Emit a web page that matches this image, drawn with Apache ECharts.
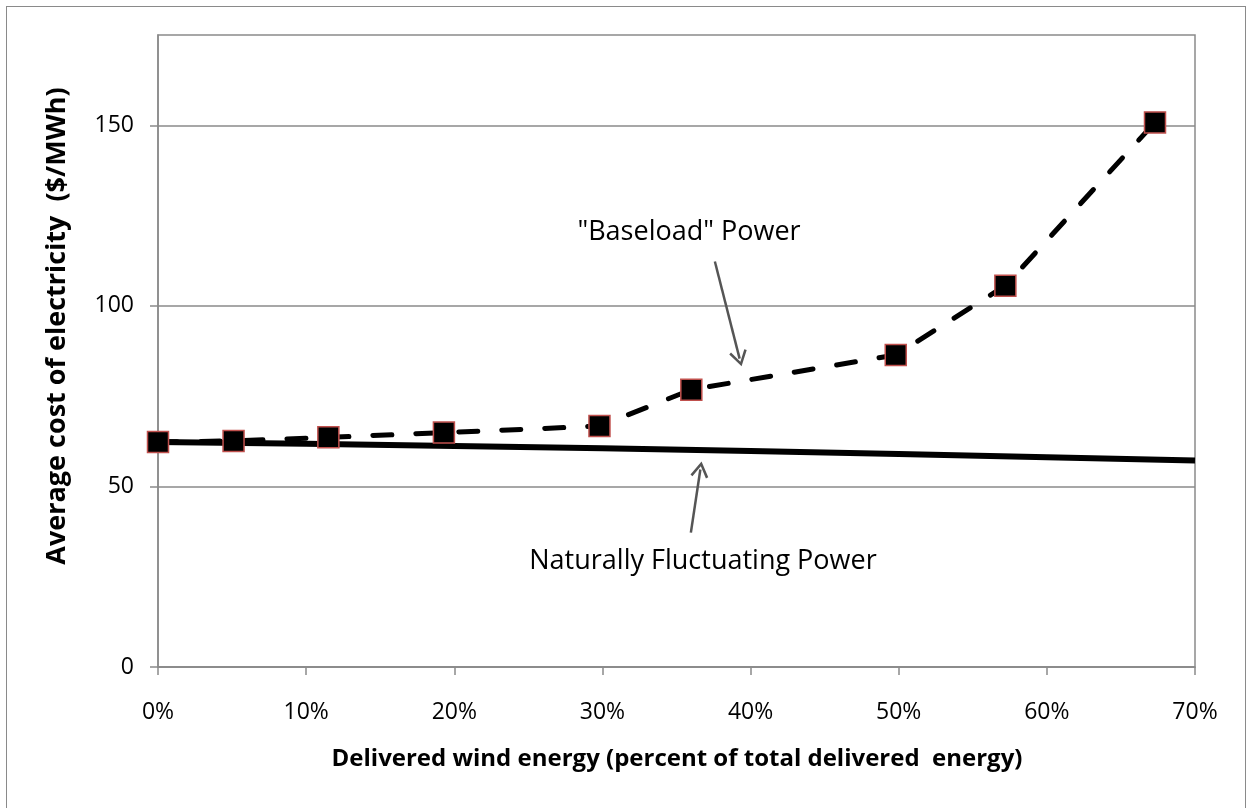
<!DOCTYPE html>
<html>
<head>
<meta charset="utf-8">
<title>Average cost of electricity vs delivered wind energy</title>
<script src="https://cdn.jsdelivr.net/npm/echarts@6/dist/echarts.min.js"></script>
<style>
  html, body { margin: 0; padding: 0; background: #fff; }
  #frame {
    position: absolute; left: 6px; top: 6px;
    width: 1240px; height: 812px;
    border: 1.5px solid #8a8a8a; box-sizing: border-box;
  }
  #chart { position: absolute; left: 0; top: 0; width: 1248px; height: 808px; }
</style>
</head>
<body>
<div id="frame"></div>
<div id="chart"></div>
<script>
// baseload power (dashed line with square markers)
const baseloadShare = [0, 0.051, 0.115, 0.193, 0.298, 0.36, 0.498, 0.572, 0.673];
const baseloadCost = [62.3, 62.6, 63.6, 64.9, 66.7, 76.8, 86.4, 105.6, 150.8];

// naturally fluctuating power (solid line)
const naturalShare = [0, 0.1, 0.2, 0.3, 0.4, 0.5, 0.6, 0.7];
const naturalCost = [62.3, 61.8, 61.2, 60.6, 59.8, 59.0, 58.1, 57.2];

// axis ticks
const xTicks = [0, 0.1, 0.2, 0.3, 0.4, 0.5, 0.6, 0.7];
const yTicks = [0, 50, 100, 150];

// annotation arrows [start, tip] in data units
const baseloadArrow = [[0.3759, 112.3], [0.3926, 85.4]];
const naturalArrow = [[0.3597, 37.2], [0.3661, 54.7]];

const font = "'Open Sans', 'Noto Sans', sans-serif";
const gray = '#8a8a8a';
const chevron = 'path://M10,0 L20,16 L17.6,17.6 L10,5.2 L2.4,17.6 L0,16 Z';

const chart = echarts.init(document.getElementById('chart'));

function pairs(xs, ys) {
  return xs.map((x, i) => [x, ys[i]]);
}

function arrow(seg) {
  return [
    { coord: seg[0], symbol: 'none' },
    { coord: seg[1], symbol: chevron, symbolSize: [18, 16] }
  ];
}

chart.setOption({
  animation: false,
  grid: {
    left: 158, right: 53, top: 35, bottom: 141,
    show: true, borderColor: gray, borderWidth: 1.5
  },
  xAxis: {
    type: 'value',
    min: 0, max: 0.7, interval: 0.1,
    axisLine: { show: true, lineStyle: { color: gray, width: 1.5 } },
    axisTick: { show: true, length: 8, lineStyle: { color: gray, width: 1.5 }, customValues: xTicks },
    splitLine: { show: false },
    axisLabel: {
      margin: 34, color: '#000', fontFamily: font, fontSize: 23,
      customValues: xTicks,
      formatter: v => Math.round(v * 100) + '%'
    }
  },
  yAxis: {
    type: 'value',
    min: 0, max: 175, interval: 50,
    axisLine: { show: true, lineStyle: { color: gray, width: 1.5 } },
    axisTick: { show: true, length: 8, lineStyle: { color: gray, width: 1.5 }, customValues: yTicks },
    splitLine: { show: true, lineStyle: { color: gray, width: 1.5 } },
    axisLabel: {
      margin: 24, color: '#000', fontFamily: font, fontSize: 23,
      customValues: yTicks
    }
  },
  series: [
    {
      name: 'Naturally Fluctuating Power',
      type: 'line',
      data: pairs(naturalShare, naturalCost),
      symbol: 'none',
      lineStyle: { color: '#000', width: 6 },
      z: 2,
      markLine: {
        silent: true,
        label: { show: false },
        lineStyle: { color: '#555', width: 2.5, type: 'solid' },
        data: [arrow(naturalArrow), arrow(baseloadArrow)]
      }
    },
    {
      name: '"Baseload" Power',
      type: 'line',
      data: pairs(baseloadShare, baseloadCost),
      symbol: 'rect',
      symbolSize: 21,
      itemStyle: { color: '#000', borderColor: '#c0504d', borderWidth: 1.5 },
      lineStyle: { color: '#000', width: 5, type: [19, 24], cap: 'round' },
      z: 3
    }
  ],
  graphic: [
    {
      type: 'text', x: 677, y: 759,
      style: {
        text: 'Delivered wind energy (percent of total delivered  energy)',
        font: 'bold 24px ' + font, fill: '#000',
        align: 'center', verticalAlign: 'middle'
      }
    },
    {
      type: 'text', x: 57, y: 326, rotation: Math.PI / 2,
      style: {
        text: 'Average cost of electricity  ($/MWh)',
        font: 'bold 27px ' + font, fill: '#000',
        align: 'center', verticalAlign: 'middle'
      }
    },
    {
      type: 'text', x: 689, y: 232,
      style: {
        text: '"Baseload" Power', font: '27px ' + font, fill: '#000',
        align: 'center', verticalAlign: 'middle'
      }
    },
    {
      type: 'text', x: 703, y: 561,
      style: {
        text: 'Naturally Fluctuating Power', font: '27px ' + font, fill: '#000',
        align: 'center', verticalAlign: 'middle'
      }
    }
  ]
});
</script>
</body>
</html>
